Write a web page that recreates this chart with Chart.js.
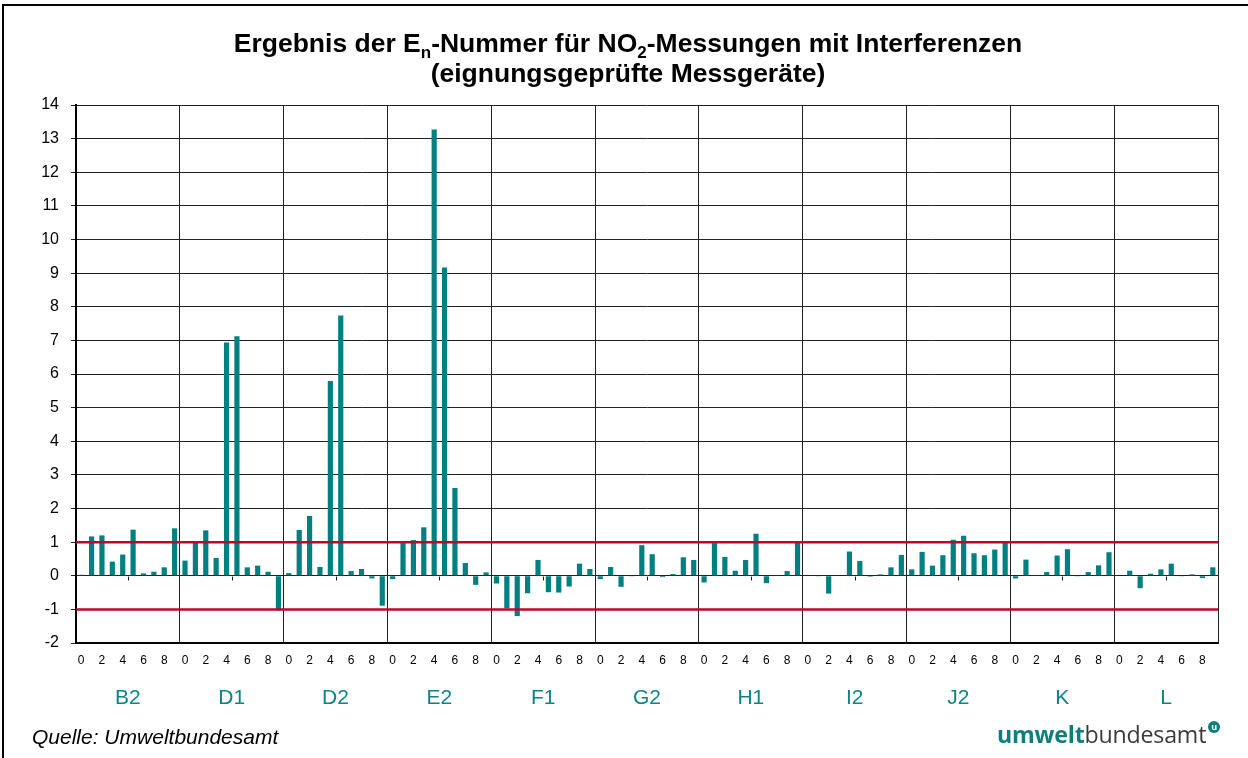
<!DOCTYPE html>
<html><head><meta charset="utf-8">
<script src="https://cdn.jsdelivr.net/npm/chart.js@4.4.1/dist/chart.umd.min.js"></script>
<style>
html,body{margin:0;padding:0;background:#fff;}
body{width:1248px;height:758px;position:relative;overflow:hidden;font-family:"Liberation Sans",Arial,sans-serif;}
#frame{position:absolute;left:2px;top:4px;width:1300px;height:800px;border-left:2px solid #000;border-top:2px solid #000;}
#title{position:absolute;left:0;top:28px;width:1256px;text-align:center;font-weight:bold;font-size:26.5px;line-height:30px;color:#000;}
#title sub{font-size:17px;vertical-align:-6px;line-height:0;}
#wrap{position:absolute;left:0;top:0;width:1248px;height:758px;}
#source{position:absolute;left:32px;top:725px;font-style:italic;font-size:21px;color:#000;}
#logo{position:absolute;left:997px;top:718px;font-family:"Open Sans",sans-serif;font-size:23.2px;color:#3a3a3a;letter-spacing:-0.2px;}
#logo b{color:#0d7f7b;font-weight:700;}
#logo .dot{position:absolute;right:-14px;top:3px;width:12px;height:12px;border-radius:50%;background:#0d7f7b;color:#fff;font-size:9px;line-height:11px;text-align:center;font-weight:700;}
</style></head>
<body>
<div id="frame"></div>
<div id="wrap"><canvas id="c" width="1248" height="758"></canvas></div>
<div id="title">Ergebnis der E<sub>n</sub>-Nummer für NO<sub>2</sub>-Messungen mit Interferenzen<br>(eignungsgeprüfte Messgeräte)</div>
<div id="source">Quelle: Umweltbundesamt</div>
<div id="logo"><b>umwelt</b>bundesamt<span class="dot">u</span></div>
<script>
const groupNames = ['B2','D1','D2','E2','F1','G2','H1','I2','J2','K','L'];
const barTickLabels = ['0','','2','','4','','6','','8',''];
const valuesB2 = [0.03, 1.17, 1.20, 0.42, 0.63, 1.37, 0.07, 0.12, 0.25, 1.41];
const valuesD1 = [0.45, 0.99, 1.35, 0.53, 6.94, 7.12, 0.25, 0.30, 0.12, -1.03];
const valuesD2 = [0.08, 1.36, 1.78, 0.26, 5.79, 7.74, 0.14, 0.20, -0.08, -0.89];
const valuesE2 = [-0.10, 0.97, 1.06, 1.44, 13.27, 9.17, 2.61, 0.38, -0.27, 0.10];
const valuesF1 = [-0.23, -0.97, -1.20, -0.52, 0.47, -0.49, -0.50, -0.32, 0.36, 0.20];
const valuesG2 = [-0.10, 0.26, -0.33, -0.01, 0.91, 0.64, -0.04, 0.05, 0.55, 0.47];
const valuesH1 = [-0.20, 0.97, 0.56, 0.15, 0.47, 1.25, -0.22, 0.02, 0.14, 1.03];
const valuesI2 = [0.00, -0.01, -0.53, 0.00, 0.72, 0.44, -0.03, 0.04, 0.25, 0.62];
const valuesJ2 = [0.19, 0.71, 0.30, 0.61, 1.07, 1.19, 0.67, 0.61, 0.78, 1.03];
const valuesK  = [-0.08, 0.48, 0.02, 0.11, 0.60, 0.79, -0.01, 0.11, 0.31, 0.70];
const valuesL  = [0.00, 0.15, -0.37, 0.06, 0.19, 0.36, -0.01, 0.04, -0.07, 0.25];
const limitLines = [1, -1];
const yMin = -2, yMax = 14, yStep = 1;

const groupValues = [valuesB2, valuesD1, valuesD2, valuesE2, valuesF1, valuesG2, valuesH1, valuesI2, valuesJ2, valuesK, valuesL];
const allValues = [].concat(...groupValues);
const allLabels = [];
groupNames.forEach(() => barTickLabels.forEach(l => allLabels.push(l)));

const extras = {
  id: 'extras',
  afterDatasetsDraw(chart) {
    const ctx = chart.ctx, y = chart.scales.y, x2 = chart.scales.x2, a = chart.chartArea;
    ctx.save();
    const y0 = Math.round(y.getPixelForValue(0)) + 0.5;
    ctx.strokeStyle = '#222'; ctx.lineWidth = 1;
    groupNames.forEach((g, i) => {
      const px = Math.round(x2.getPixelForValue(i)) + 0.5;
      ctx.beginPath(); ctx.moveTo(px, y0); ctx.lineTo(px, y0 + 4); ctx.stroke();
    });
    ctx.strokeStyle = '#c0042c'; ctx.lineWidth = 2.5;
    limitLines.forEach(v => {
      const py = y.getPixelForValue(v);
      ctx.beginPath(); ctx.moveTo(a.left, py); ctx.lineTo(a.right, py); ctx.stroke();
    });
    ctx.restore();
  }
};

new Chart(document.getElementById('c'), {
  type: 'bar',
  data: {
    labels: allLabels,
    datasets: [{
      data: allValues,
      backgroundColor: '#008080',
      borderWidth: 0,
      barPercentage: 0.5,
      categoryPercentage: 1.0,
      xAxisID: 'x', yAxisID: 'y'
    }]
  },
  options: {
    responsive: false,
    animation: false,
    events: [],
    layout: { padding: { top: 105, right: 30, bottom: 35, left: 0 } },
    plugins: { legend: { display: false }, tooltip: { enabled: false }, title: { display: false } },
    scales: {
      x: {
        type: 'category',
        position: 'bottom',
        weight: 0,
        offset: true,
        grid: { display: false, drawTicks: false },
        border: { display: true, color: '#000', width: 2 },
        ticks: { autoSkip: false, maxRotation: 0, minRotation: 0, color: '#000', padding: 10,
                 font: { family: '"Liberation Sans", Arial, sans-serif', size: 12 } },
        afterFit(s) { s.height = 30; }
      },
      x2: {
        type: 'category',
        position: 'bottom',
        weight: 1,
        labels: groupNames,
        offset: true,
        grid: { display: true, offset: true, drawTicks: false, color: '#222', lineWidth: 1 },
        border: { display: false },
        ticks: { autoSkip: false, maxRotation: 0, color: '#0b8584', padding: 13,
                 font: { family: '"Liberation Sans", Arial, sans-serif', size: 21 } },
        afterFit(s) { s.height = 50; }
      },
      y: {
        min: yMin, max: yMax,
        ticks: { stepSize: yStep, color: '#000', padding: 12,
                 font: { family: '"Liberation Sans", Arial, sans-serif', size: 16 } },
        grid: { color: '#222', lineWidth: 1, tickLength: 5 },
        border: { display: true, color: '#000', width: 2 },
        afterFit(s) { s.width = 76; }
      }
    }
  },
  plugins: [extras]
});
</script>
</body></html>
